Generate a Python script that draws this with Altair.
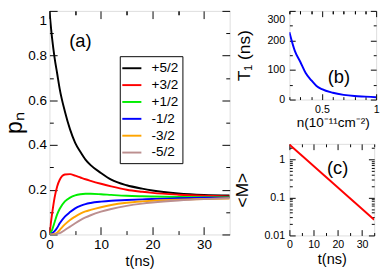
import altair as alt
import pandas as pd

FONT = "Liberation Sans"

# ---------------- panel (a) data ----------------
t_ns = [0, 0.5, 1, 1.5, 2, 3, 4, 5, 6, 7, 8, 10, 12, 15, 18, 20, 25, 30, 35]
p_plus52 = [1.0, 0.88, 0.79, 0.72, 0.65, 0.55, 0.47, 0.41, 0.37, 0.335, 0.31, 0.275, 0.245, 0.22, 0.205, 0.197, 0.184, 0.177, 0.174]
p_plus32 = [0, 0.09, 0.165, 0.215, 0.245, 0.268, 0.27, 0.263, 0.255, 0.247, 0.24, 0.227, 0.215, 0.2, 0.191, 0.186, 0.178, 0.173, 0.17]
p_plus12 = [0, 0.02, 0.055, 0.09, 0.115, 0.148, 0.165, 0.175, 0.18, 0.182, 0.182, 0.18, 0.177, 0.173, 0.171, 0.17, 0.168, 0.167, 0.167]
p_minus12 = [0, 0.005, 0.015, 0.03, 0.05, 0.08, 0.1, 0.117, 0.128, 0.136, 0.141, 0.147, 0.151, 0.154, 0.157, 0.159, 0.162, 0.164, 0.165]
p_minus32 = [0, 0, 0.003, 0.008, 0.02, 0.045, 0.065, 0.08, 0.093, 0.103, 0.11, 0.122, 0.132, 0.142, 0.148, 0.151, 0.156, 0.159, 0.161]
p_minus52 = [0, 0, 0, 0.002, 0.006, 0.02, 0.035, 0.05, 0.064, 0.076, 0.086, 0.102, 0.114, 0.128, 0.138, 0.143, 0.152, 0.158, 0.162]
states = ["+5/2", "+3/2", "+1/2", "-1/2", "-3/2", "-5/2"]
state_colors = ["#000000", "#ff0000", "#00ee00", "#0000ff", "#ffa500", "#bc8f8f"]
series_a = [p_plus52, p_plus32, p_plus12, p_minus12, p_minus32, p_minus52]

# ---------------- panel (b) data ----------------
n_density = [0.2, 0.25, 0.3, 0.35, 0.4, 0.45, 0.5, 0.6, 0.7, 0.8, 0.9, 1.0]
T1_ns = [228, 165, 128, 90, 66, 46, 35, 23, 16, 12, 10, 8]

# ---------------- panel (c) data ----------------
t_c = [0, 35]
M_avg = [2.5, 0.026]

# panel tags (text, x, y in data units)
tag_a = ["(a)", 6.0, 0.865]
tag_b = ["(b)", 0.656, 74]
tag_c = ["(c)", 19.9, 0.59]

rows = []
for s, vals in zip(states, series_a):
    for tt, v in zip(t_ns, vals):
        rows.append({"t": tt, "p": v, "state": s})
df_a = pd.DataFrame(rows)
df_b = pd.DataFrame({"n": n_density, "T1": T1_ns})
df_c = pd.DataFrame({"t": t_c, "M": M_avg})


def axis(orient, values, size, fs, labels=False, lpad=3, **extra):
    kw = dict(orient=orient, values=values, tickSize=size, offset=-size, domain=False,
              grid=False, ticks=True, tickColor="black", tickWidth=1, labels=labels,
              labelFont=FONT, labelFontSize=fs, labelColor="black",
              labelExpr="'' + datum.value", minExtent=0,
              labelPadding=lpad, labelFlush=False, labelOverlap=False, labelBound=False,
              title=None)
    kw.update(extra)
    return alt.Axis(**kw)


def build_panel(df, xf, yf, xs, ys, xmaj, xmin, ymaj, ymin, ytop, msz, nsz, fs, ylpad,
                xtitle, xtfs, xtpad, ytitle, ytfs, ytpad, main, tag, tagfs):
    xt = dict(title=xtitle, titleFont=FONT, titleFontSize=xtfs, titleFontWeight="normal",
              titleColor="black", titlePadding=xtpad)
    yt = dict(title=ytitle, titleFont=FONT, titleFontSize=ytfs, titleFontWeight="normal",
              titleColor="black", titlePadding=ytpad)
    layers = [main.encode(
        x=alt.X(f"{xf}:Q", scale=xs, axis=axis("bottom", xmaj, msz, fs, True, 4, **xt)),
        y=alt.Y(f"{yf}:Q", scale=ys, axis=axis("left", ymaj, msz, fs, True, ylpad, **yt)),
    )]
    specs = [
        ("bottom", xmin, nsz, False, {}, "left", ymin, nsz, False, {}),
        ("top", xmaj, msz, False, {}, "right", ymaj + ([ytop] if ytop is not None else []), msz, False, {}),
        ("top", xmin, nsz, False, {}, "right", ymin, nsz, False, {}),
    ]
    if ytop is not None:
        # top-most y label kept inside the picture
        specs.append(("top", xmin, nsz, False, {}, "left", [ytop], msz, True,
                      {"labelBaseline": "top", "labelOffset": 3}))
    for xo, xv, xsz, xl, xe, yo, yv, ysz, yl, ye in specs:
        layers.append(alt.Chart(df).mark_point(opacity=0, size=0).encode(
            x=alt.X(f"{xf}:Q", scale=xs, axis=axis(xo, xv, xsz, fs, xl, 4, **xe)),
            y=alt.Y(f"{yf}:Q", scale=ys, axis=axis(yo, yv, ysz, fs, yl, ylpad, **ye)),
        ))
    tdf = pd.DataFrame({xf: [tag[1]], yf: [tag[2]], "lab": [tag[0]]})
    layers.append(alt.Chart(tdf).mark_text(font=FONT, fontSize=tagfs, color="black").encode(
        x=alt.X(f"{xf}:Q", scale=xs, axis=None), y=alt.Y(f"{yf}:Q", scale=ys, axis=None),
        text="lab:N"))
    return alt.layer(*layers).resolve_axis(x="independent", y="independent")


# panel (a)
xa = alt.Scale(domain=[0, 35], nice=False, zero=False)
ya = alt.Scale(domain=[0, 1], nice=False, zero=False)
main_a = alt.Chart(df_a).mark_line(strokeWidth=2, interpolate="monotone", clip=True).encode(
    color=alt.Color("state:N", scale=alt.Scale(domain=states, range=state_colors),
                    legend=alt.Legend(title=None, orient="none", legendX=73, legendY=47,
                                      strokeColor="black", fillColor="white", padding=4,
                                      symbolType="M-1.4,0H1.4", symbolSize=200,
                                      symbolStrokeWidth=2, labelFont=FONT, labelFontSize=14,
                                      labelColor="black", labelOffset=12, rowPadding=1.5)),
    order=alt.Order("state:N"),
)
panel_a = build_panel(df_a, "t", "p", xa, ya, [0, 10, 20, 30], [5, 15, 25],
                      [0, 0.2, 0.4, 0.6, 0.8], [0.1, 0.3, 0.5, 0.7, 0.9], 1,
                      8, 4, 14, 3, "t(ns)", 15, 2, "pₙ", 24, 1,
                      main_a, tag_a, 19).properties(width=187, height=232)

# panel (b)
xb = alt.Scale(domain=[0.2, 1.0], nice=False, zero=False)
yb = alt.Scale(domain=[0, 300], nice=False, zero=False)
main_b = alt.Chart(df_b).mark_line(strokeWidth=2, color="#0000ff", interpolate="monotone", clip=True)
panel_b = build_panel(df_b, "n", "T1", xb, yb, [0.5, 1.0], [0.2, 0.3, 0.4, 0.6, 0.7, 0.8, 0.9],
                      [0, 100, 200], [50, 150, 250], 300, 6, 3, 11, 5,
                      "n(10⁻¹¹cm⁻²)", 14, 2, "T₁ (ns)", 18, 14,
                      main_b, tag_b, 19).properties(width=90, height=92)

# panel (c)
xc = alt.Scale(domain=[0, 35], nice=False, zero=False)
yc = alt.Scale(type="log", domain=[0.01, 2.6], nice=False)
yc_minor = [0.02, 0.03, 0.04, 0.05, 0.06, 0.07, 0.08, 0.09,
            0.2, 0.3, 0.4, 0.5, 0.6, 0.7, 0.8, 0.9, 2]
main_c = alt.Chart(df_c).mark_line(strokeWidth=2, color="#ff0000", clip=True)
panel_c = build_panel(df_c, "t", "M", xc, yc, [0, 10, 20, 30], [5, 15, 25, 35],
                      [0.01, 0.1, 1], yc_minor, None, 6, 3, 11, 5,
                      "t(ns)", 15, 2, "<M>", 18, 13,
                      main_c, tag_c, 19).properties(width=88, height=95)

right = alt.vconcat(panel_b, panel_c, spacing=46, bounds="flush")
chart = alt.hconcat(panel_a, right, spacing=62, bounds="flush").properties(
    padding={"left": -5, "top": -3, "right": 0, "bottom": 0}
).configure_view(stroke="black", strokeWidth=1).configure(background="white")

chart.save("out.html", embed_options={"renderer": "svg", "actions": False})
